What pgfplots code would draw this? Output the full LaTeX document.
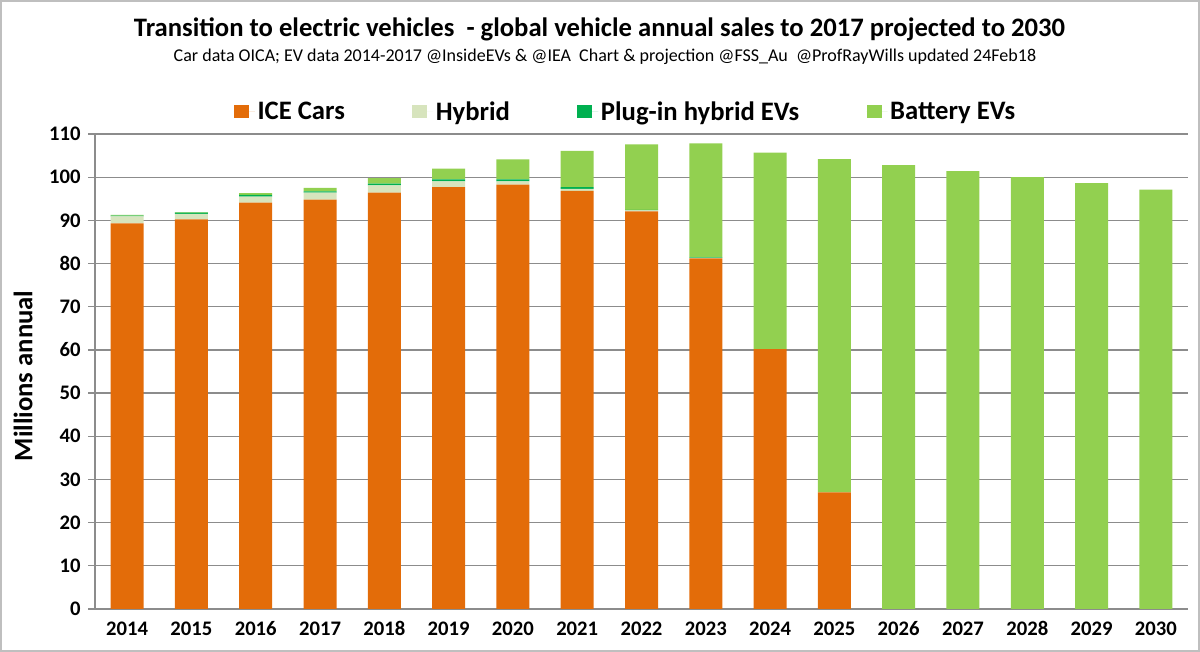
\documentclass[border=0pt]{standalone}
\usepackage{fontspec}
\setmainfont{Carlito}
\usepackage{pgfplots}
\usepackage{pgfplotstable}
\pgfplotsset{compat=1.18}
\definecolor{ice}{HTML}{E36C09}
\definecolor{hyb}{HTML}{D7E4BD}
\definecolor{phev}{HTML}{00B050}
\definecolor{bev}{HTML}{92D050}
\definecolor{gridc}{HTML}{8C8C8C}
\definecolor{framec}{HTML}{BFBFBF}

\pgfplotstableread{
x  ice  hyb  phev bev
0  89.3 1.6  0.2  0.15
1  90.2 1.3  0.3  0.1
2  94.1 1.4  0.4  0.4
3  94.8 1.6  0.3  0.8
4  96.4 1.7  0.4  1.3
5  97.7 1.3  0.5  2.5
6  98.3 0.7  0.5  4.6
7  96.8 0.5  0.4  8.4
8  92.1 0.2  0.1  15.2
9  81.2 0.1  0.1  26.4
10 60.2 0    0    45.5
11 27.0 0    0    77.2
12 0    0    0    102.8
13 0    0    0    101.4
14 0    0    0    100.0
15 0    0    0    98.6
16 0    0    0    97.1
}\data

\begin{document}
\begin{tikzpicture}
\begin{axis}[
  name=ax,
  scale only axis,
  width=819.75pt, height=356.25pt,
  ybar stacked, bar width=24.75pt,
  xmin=-0.5, xmax=16.5, ymin=0, ymax=110,
  xtick={0,...,16},
  xticklabels={2014,2015,2016,2017,2018,2019,2020,2021,2022,2023,2024,2025,2026,2027,2028,2029,2030},
  ytick={0,10,...,110},
  ymajorgrids,
  grid style={gridc, line width=1pt},
  axis lines*=left,
  axis line style={gridc, line width=1pt},
  tick align=outside,
  major tick length=5.25pt,
  xtick style={draw=none},
  ytick style={gridc, line width=1pt},
  /pgf/number format/assume math mode=true,
  yticklabel style={font=\fontsize{15.5}{18}\selectfont\bfseries, anchor=east, xshift=-2pt},
  xticklabel style={font=\fontsize{15.5}{18}\selectfont\bfseries, anchor=base, yshift=-15pt},
  legend image code/.code={\fill[#1] (0pt,-4.875pt) rectangle (11.25pt,4.875pt); \path (0pt,0pt) -- (15.75pt,0pt);},
  legend columns=4,
  legend style={at={(0.4857,1.047)}, anchor=center, draw=none, fill=none,
    font=\fontsize{20}{22}\selectfont\bfseries,
    /tikz/every even column/.append style={column sep=48.5pt}},
]
\addplot[fill=ice, draw=none] table[x=x, y=ice] {\data};
\addplot[fill=hyb, draw=none] table[x=x, y=hyb] {\data};
\addplot[fill=phev, draw=none] table[x=x, y=phev] {\data};
\addplot[fill=bev, draw=none] table[x=x, y=bev] {\data};
\legend{ICE Cars, Hybrid, Plug-in hybrid EVs, Battery EVs}
\end{axis}
\node[anchor=base, font=\fontsize{20}{24}\selectfont\bfseries] at ([shift={(378.4pt,429.2pt)}]ax.south west) {Transition to electric vehicles\ \ - global vehicle annual sales to 2017 projected to 2030};
\node[anchor=base, font=\fontsize{13.5}{16}\selectfont] at ([shift={(382.5pt,410.25pt)}]ax.south west) {Car data OICA; EV data 2014-2017 @InsideEVs \& @IEA\ \ Chart \& projection @FSS\_Au\ \ @ProfRayWills updated 24Feb18};
\node[rotate=90, font=\fontsize{20}{24}\selectfont\bfseries] at ([shift={(-54pt,174.75pt)}]ax.south west) {Millions annual};
\draw[framec, line width=1.5pt] ([shift={(-70.5pt,-31.5pt)}]ax.south west) rectangle ([shift={(828pt,456pt)}]ax.south west);
\end{tikzpicture}
\end{document}
